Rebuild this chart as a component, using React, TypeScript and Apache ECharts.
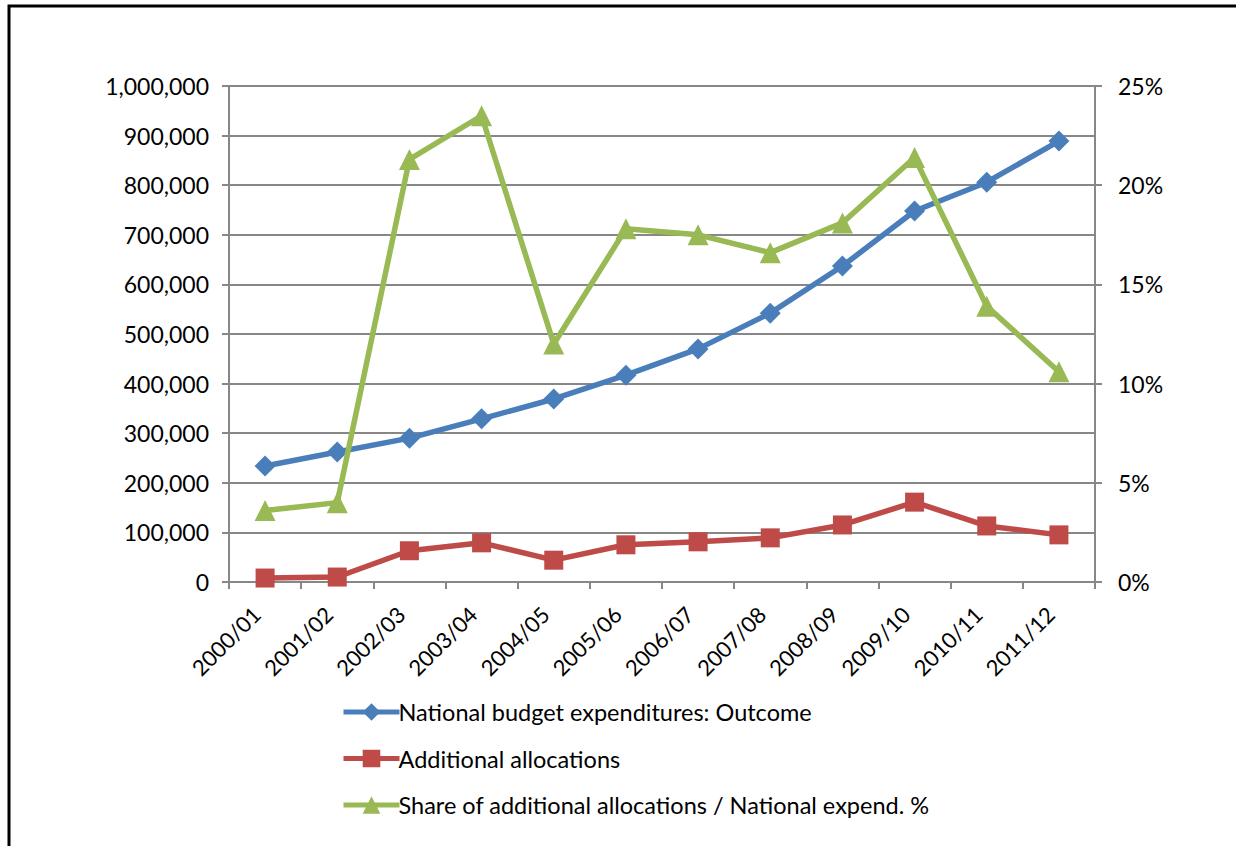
import React, { useEffect, useRef } from "react";
import * as echarts from "echarts";

// Fiscal years shown on the category axis
const years = [
  "2000/01", "2001/02", "2002/03", "2003/04", "2004/05", "2005/06",
  "2006/07", "2007/08", "2008/09", "2009/10", "2010/11", "2011/12",
];

// National budget expenditures (outcome)
const nationalExpenditure = [
  234000, 262000, 290000, 329000, 369000, 417000,
  470000, 542000, 637000, 748000, 806000, 889000,
];

// Additional allocations
const additionalAllocations = [
  8000, 10000, 63000, 79000, 44000, 75000,
  81000, 89000, 115000, 161000, 113000, 95000,
];

// Share of additional allocations in national expenditure, percent
const sharePercent = [
  3.6, 4.0, 21.3, 23.5, 12.0, 17.8,
  17.5, 16.6, 18.1, 21.4, 13.9, 10.6,
];

const seriesNames = [
  "National budget expenditures: Outcome",
  "Additional allocations",
  "Share of additional allocations / National expend. %",
];

const BLUE = "#4A7EBB";
const RED = "#BE4B48";
const GREEN = "#98B954";
const GRID = "#878787";
const FONT = "Lato";
const LABEL_SIZE = 23;

export default function App() {
  const ref = useRef<HTMLDivElement>(null);

  useEffect(() => {
    if (!ref.current) return;
    const chart = echarts.init(ref.current, undefined, { renderer: "svg" });
    const fmt = new Intl.NumberFormat("en-US");
    chart.setOption({
      animation: false,
      backgroundColor: "#ffffff",
      textStyle: { fontFamily: FONT },
      grid: { left: 229, right: 141, top: 86, bottom: 264, containLabel: false },
      legend: {
        orient: "vertical",
        left: 336,
        top: 695,
        itemWidth: 56,
        itemHeight: 22,
        itemGap: 22.5,
        data: seriesNames,
        lineStyle: { width: 5 },
        textStyle: { fontFamily: FONT, fontSize: 23.5, color: "#000", padding: [0, 0, 0, -6] },
      },
      xAxis: {
        type: "category",
        data: years,
        boundaryGap: true,
        axisLine: { lineStyle: { color: GRID, width: 2 } },
        axisTick: { show: true, length: 7, lineStyle: { color: GRID, width: 2 } },
        axisLabel: {
          rotate: 45,
          interval: 0,
          margin: 20,
          padding: [0, 12, 0, 0],
          fontFamily: FONT,
          fontSize: 22,
          color: "#000",
        },
      },
      yAxis: [
        {
          type: "value",
          min: 0,
          max: 1000000,
          interval: 100000,
          position: "left",
          axisLine: { show: true, lineStyle: { color: GRID, width: 2 } },
          axisTick: { show: true, length: 7, lineStyle: { color: GRID, width: 2 } },
          splitLine: { show: true, lineStyle: { color: GRID, width: 2 } },
          axisLabel: {
            margin: 20,
            fontFamily: FONT,
            fontSize: LABEL_SIZE,
            color: "#000",
            formatter: (v: number) => fmt.format(v),
          },
        },
        {
          type: "value",
          min: 0,
          max: 25,
          interval: 5,
          position: "right",
          axisLine: { show: true, lineStyle: { color: GRID, width: 2 } },
          axisTick: { show: true, length: 7, lineStyle: { color: GRID, width: 2 } },
          splitLine: { show: false },
          axisLabel: {
            margin: 23,
            fontFamily: FONT,
            fontSize: LABEL_SIZE,
            color: "#000",
            formatter: "{value}%",
          },
        },
      ],
      series: [
        {
          name: seriesNames[0],
          type: "line",
          yAxisIndex: 0,
          data: nationalExpenditure,
          symbol: "diamond",
          symbolSize: 21,
          lineStyle: { color: BLUE, width: 5.5 },
          itemStyle: { color: BLUE },
          z: 3,
        },
        {
          name: seriesNames[1],
          type: "line",
          yAxisIndex: 0,
          data: additionalAllocations,
          symbol: "rect",
          symbolSize: 19,
          lineStyle: { color: RED, width: 5.5 },
          itemStyle: { color: RED },
          z: 2,
        },
        {
          name: seriesNames[2],
          type: "line",
          yAxisIndex: 1,
          data: sharePercent,
          symbol: "triangle",
          symbolSize: 21,
          lineStyle: { color: GREEN, width: 5.5 },
          itemStyle: { color: GREEN },
          z: 4,
        },
      ],
      graphic: [
        {
          type: "polyline",
          shape: { points: [[9, 850], [9, 6], [1240, 6]] },
          style: { stroke: "#000", lineWidth: 3, fill: "none" },
          silent: true,
        },
      ],
    });
    return () => chart.dispose();
  }, []);

  return (
    <div
      ref={ref}
      style={{ position: "fixed", left: 0, top: 0, width: 1236, height: 846, background: "#fff" }}
    />
  );
}
